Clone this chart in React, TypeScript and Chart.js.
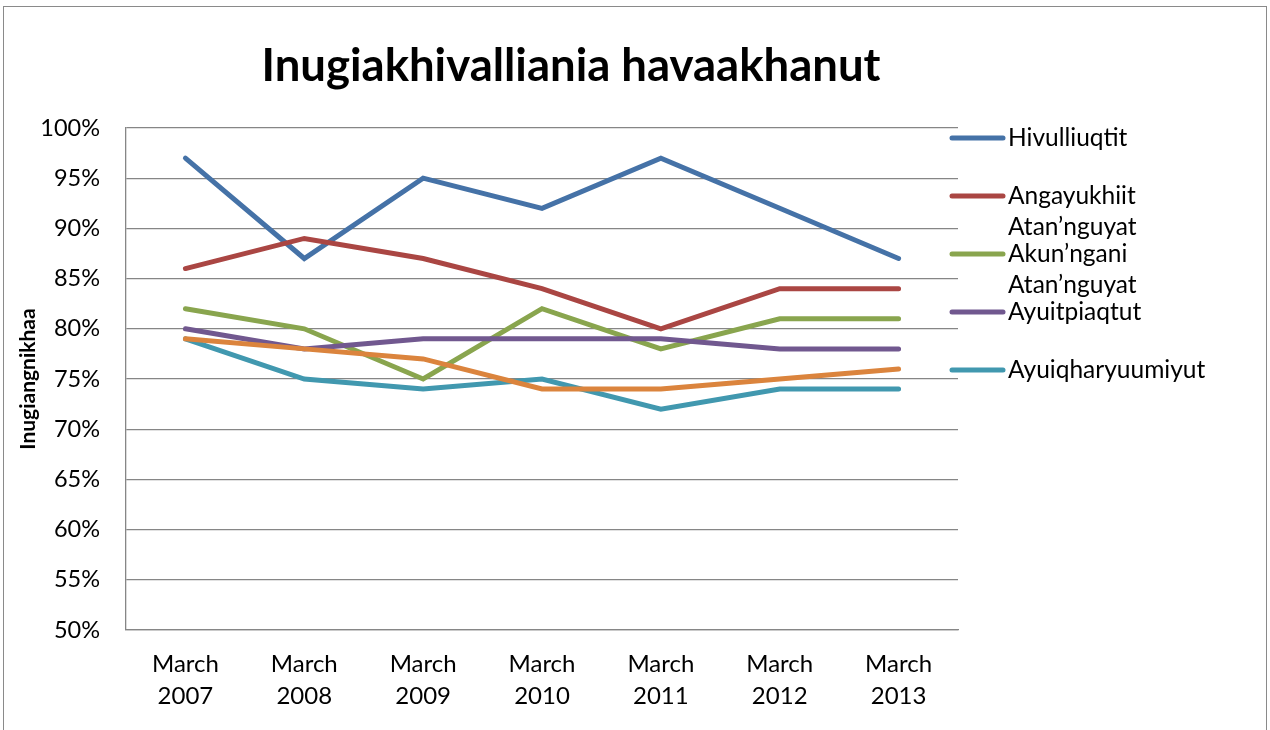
import { useEffect, useRef } from "react";
import { Chart, registerables } from "chart.js";
Chart.register(...registerables);

const categories = [
  ["March", "2007"],
  ["March", "2008"],
  ["March", "2009"],
  ["March", "2010"],
  ["March", "2011"],
  ["March", "2012"],
  ["March", "2013"],
];
const chartTitle = "Inugiakhivalliania havaakhanut";
const yAxisTitle = "Inugiangnikhaa";
const seriesNames = [
  ["Hivulliuqtit"],
  ["Angayukhiit", "Atan’nguyat"],
  ["Akun’ngani", "Atan’nguyat"],
  ["Ayuitpiaqtut"],
  ["Ayuiqharyuumiyut"],
  [""],
];
const hivulliuqtit = [97, 87, 95, 92, 97, 92, 87];
const angayukhiit = [86, 89, 87, 84, 80, 84, 84];
const akunngani = [82, 80, 75, 82, 78, 81, 81];
const ayuitpiaqtut = [80, 78, 79, 79, 79, 78, 78];
const ayuiqharyuumiyut = [79, 75, 74, 75, 72, 74, 74];
const sixthSeries = [79, 78, 77, 74, 74, 75, 76];
const seriesValues = [hivulliuqtit, angayukhiit, akunngani, ayuitpiaqtut, ayuiqharyuumiyut, sixthSeries];
const seriesColors = ["#4572A7", "#AA4643", "#89A54E", "#71588F", "#4198AF", "#DB843D"];
const legendCount = 5;
const yMin = 50;
const yMax = 100;
const yStep = 5;

const FONT = "Lato, 'Noto Sans', sans-serif";

const decorPlugin = {
  id: "decor",
  afterDraw(chart: any) {
    const ctx = chart.ctx as CanvasRenderingContext2D;
    const area = chart.chartArea;
    ctx.save();
    // outer border
    ctx.strokeStyle = "#8a8a8a";
    ctx.lineWidth = 1;
    ctx.strokeRect(3.5, 6.5, 1263, 740);
    // title
    ctx.fillStyle = "#000";
    ctx.font = `bold 45.5px ${FONT}`;
    ctx.textAlign = "center";
    ctx.textBaseline = "alphabetic";
    ctx.fillText(chartTitle, 571, 81);
    // y axis title
    ctx.save();
    ctx.translate(28, (area.top + area.bottom) / 2);
    ctx.rotate(-Math.PI / 2);
    ctx.font = `bold 21px ${FONT}`;
    ctx.textBaseline = "middle";
    ctx.fillText(yAxisTitle, 0, 0);
    ctx.restore();
    // legend
    ctx.font = `24.5px ${FONT}`;
    ctx.textAlign = "left";
    ctx.textBaseline = "middle";
    const x0 = area.right - 8;
    for (let i = 0; i < legendCount; i++) {
      const y = 138 + i * 58;
      ctx.strokeStyle = seriesColors[i];
      ctx.lineWidth = 5;
      ctx.lineCap = "round";
      ctx.beginPath();
      ctx.moveTo(x0 + 2, y);
      ctx.lineTo(x0 + 53, y);
      ctx.stroke();
      ctx.fillStyle = "#000";
      seriesNames[i].forEach((line, j) => {
        ctx.fillText(line, x0 + 58, y + j * 31);
      });
    }
    ctx.restore();
  },
};

export default function App() {
  const ref = useRef<HTMLCanvasElement>(null);
  useEffect(() => {
    const canvas = ref.current!;
    const chart = new Chart(canvas, {
      type: "line",
      data: {
        labels: categories,
        datasets: seriesValues.map((vals, i) => ({
          label: seriesNames[i].join(" "),
          data: vals,
          borderColor: seriesColors[i],
          backgroundColor: seriesColors[i],
          borderWidth: 5,
          pointRadius: 0,
          tension: 0,
          borderCapStyle: "round" as const,
          borderJoinStyle: "miter" as const,
          order: seriesValues.length - i,
        })),
      },
      options: {
        animation: false,
        responsive: false,
        maintainAspectRatio: false,
        layout: { padding: { top: 128, right: 312, left: 0, bottom: 0 } },
        plugins: { legend: { display: false }, title: { display: false }, tooltip: { enabled: false } },
        scales: {
          x: {
            offset: true,
            grid: { display: false, drawTicks: false },
            border: { display: true, color: "#868686", width: 1.3 },
            ticks: { color: "#000", font: { family: FONT, size: 24, lineHeight: 1.35 }, padding: 18, maxRotation: 0, autoSkip: false },
            afterFit: (s: any) => { s.height = 100; },
          },
          y: {
            min: yMin,
            max: yMax,
            grid: { color: "#868686", lineWidth: 1.3, drawTicks: false },
            border: { display: true, color: "#868686", width: 1.3 },
            ticks: { stepSize: yStep, color: "#000", font: { family: FONT, size: 23.5 }, padding: 26, callback: (v: any) => v + "%" },
            afterFit: (s: any) => { s.width = 126; },
          },
        },
      },
      plugins: [decorPlugin],
    });
    return () => chart.destroy();
  }, []);
  return (
    <div style={{ position: "fixed", left: 0, top: 0, width: 1270, height: 730, background: "#fff" }}>
      <canvas ref={ref} width={1270} height={730} style={{ width: 1270, height: 730 }} />
    </div>
  );
}
